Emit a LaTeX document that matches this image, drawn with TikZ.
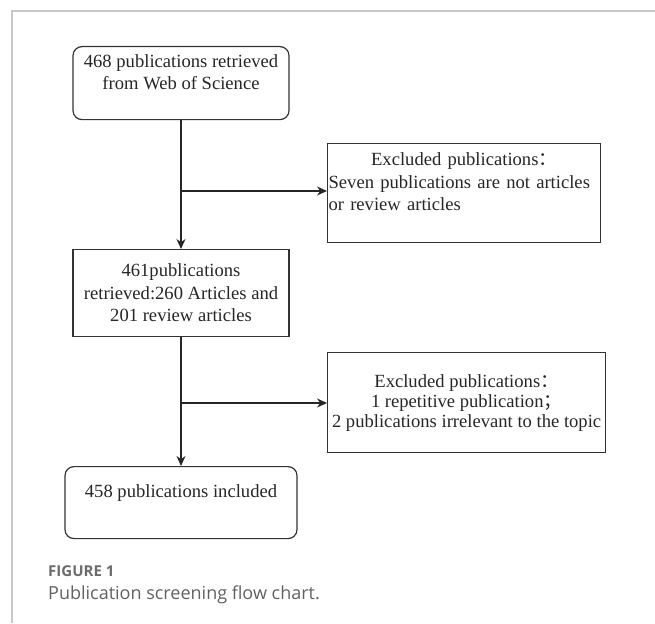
\documentclass[tikz,border=0pt]{standalone}
\usepackage{fontspec}
\setmainfont{Liberation Serif}
\newfontfamily\cjk{Noto Sans CJK SC}
\newfontfamily\capfont{Open Sans}
\usetikzlibrary{arrows.meta}

\begin{document}
\begin{tikzpicture}[x=1pt, y=-1pt,
    stepbox/.style={draw=black!80, line width=1.2pt, anchor=north, inner sep=1pt,
      text=black!85, font=\fontsize{18.6}{22.5}\selectfont},
    roundbox/.style={stepbox, rounded corners=9pt, align=center},
    flow/.style={-{Stealth[length=10pt,width=9pt]}, line width=1.2pt, black!85}]
  \useasboundingbox (0,0) rectangle (655,623);
  % page frame
  \draw[black!22, line width=1.5pt] (655,11) -- (12,11) -- (12,623);

  \node[roundbox, minimum width=216pt, minimum height=73pt] (found) at (181,46)
    {468 publications retrieved\\from Web of Science\\~};
  \node[stepbox, align=center, minimum width=216pt, minimum height=87pt] (screened) at (181,249)
    {461publications\\retrieved:260 Articles and\\201 review articles};
  \node[roundbox, minimum width=232pt, minimum height=72pt] (included) at (181,466)
    {458 publications included\\~};

  \node[stepbox, anchor=north west, text width=271pt, align=left, minimum height=99pt] (excl1) at (327,143)
    {\makebox[\hsize]{Excluded publications{\cjk ：}}\\Seven publications are not articles\\or review articles\\~};
  \node[stepbox, anchor=north west, align=center, minimum width=278pt, minimum height=100pt,
      font=\fontsize{18.6}{20}\selectfont] (excl2) at (327,352)
    {Excluded publications{\cjk ：}\\1 repetitive publication{\cjk ；}\\2 publications irrelevant to the topic};

  \coordinate (b1) at (181,191);
  \coordinate (b2) at (181,403);

  \draw[flow] (found.south) -- (screened.north);
  \draw[flow] (b1) -- (b1 -| excl1.west);
  \draw[flow] (screened.south) -- (included.north);
  \draw[flow] (b2) -- (b2 -| excl2.west);

  % caption
  \node[anchor=west, inner sep=0pt, text=black!58, font=\capfont\bfseries\fontsize{15}{17}\selectfont] (fig) at (48,571) {FIGURE 1};
  \node[anchor=west, inner sep=0pt, text=black!62, font=\capfont\fontsize{18}{21}\selectfont] (title) at (48,595) {Publication screening flow chart.};
\end{tikzpicture}
\end{document}
